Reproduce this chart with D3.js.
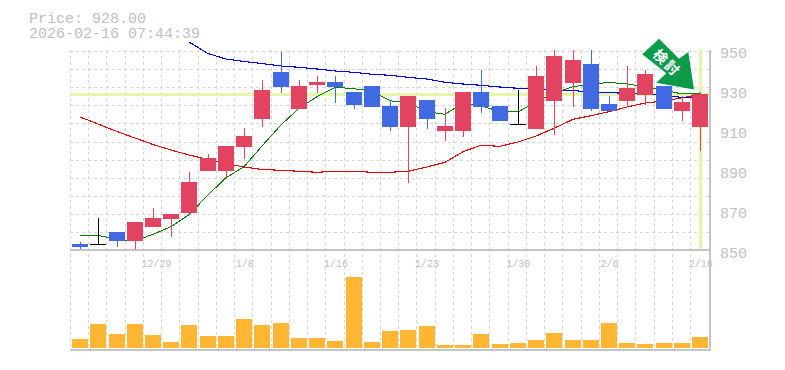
<!DOCTYPE html>
<html>
<head>
<meta charset="utf-8">
<script src="https://cdn.jsdelivr.net/npm/d3@7"></script>
<style>
	html, body { margin: 0; padding: 0; background: #fff; }
	svg { display: block; }
	text { font-family: "Liberation Mono", monospace; }
</style>
</head>
<body>
<svg id="chart" width="785" height="370"></svg>
<script>
const dates = ["12/23","12/24","12/25","12/26","12/29","12/30","1/5","1/6","1/7","1/8","1/9","1/13","1/14","1/15","1/16","1/19","1/20","1/21","1/22","1/23","1/26","1/27","1/28","1/29","1/30","2/2","2/3","2/4","2/5","2/6","2/9","2/10","2/12","2/13","2/16"];
const dateTicks = ["12/29","1/8","1/16","1/23","1/30","2/6","2/16"];
const priceTicks = [950,930,910,890,870,850];

const opens = [853,852.8,859,854.5,861.5,865.5,868.5,889.5,889.5,901.5,915.5,939,920.5,932.5,934,929,932,922,911.5,925,909.5,909.5,929,922,912.8,910.5,924.5,933.5,943,923,924.5,927.5,932,919.5,911.5];
const closes = [851.5,852.8,854.5,864,866,868,884,896,902,907,930,931.5,932,934,931.5,922.5,921.5,911.5,927,915.5,912,929,921.5,914.5,912.8,937,947,945,920.5,919.5,931,938,920.5,924,928];
const highs = [854,866,859,864,871,868,889,898,902,911,935,949,935,937,937,929,932,925,927,925,921,929,940,922,930,942,950,950,950,927,942,940,932,927,929];
const lows = [849.5,852.8,851.5,849.5,861.5,856.5,867.5,889.5,885.5,895.5,911.5,928.5,920.5,928.5,923.5,920.5,921.5,909.5,883.5,910.5,904.5,906.5,918.5,914.5,912.8,910.5,907.5,921.5,919.5,919.5,921.5,922.5,920.5,914.5,899.5];
const volumes = [9,24,14,24,13,6,23,12,12,29,23,25,10,10,7,71,6,17,18,22,3,3,14,4,5,8,15,8,8,25,5,4,5,5,11];

const maShort = [857,857.35,855.35,854.5,857.85,861.65,867.65,877.5,886.15,891.65,902,912.5,920.85,926.65,931.35,930.65,929.5,924.65,923.5,919.15,917.85,923.5,922.15,919.15,919,924.15,928.35,931.65,932.85,933.85,933,931.65,930,928,928.5];
const maMid = [916.5,913,909.25,906,902.75,900,897.5,895.25,893.25,891.5,890.25,889.85,889.35,888.85,889.35,889.35,888.85,888.85,889.35,891.5,893.85,899.15,902.35,901.85,904,907,910.85,915.35,917.15,919.15,921.5,923.5,924.5,926.15,927.75];
// the long average only starts at the seventh session
const maLong = [null,null,null,null,null,null,954,948.25,945.5,944.25,943.25,942,941.35,940.5,939.5,938.85,937.85,937.35,936.35,935.5,933.85,933,932.35,931.5,930.85,930.25,930,929.65,929.15,928.65,928.35,928,927.15,926.35,926.15];

const currentPrice = 928;
const timestamp = "2026-02-16 07:44:39";
const signalLabel = "検討";

const colUp = "#e24361", colDown = "#4169e1", colVol = "#ffb733", colGrid = "#d6d6d6", colAxis = "#c4c4c4", colText = "#c0c0c0", colNow = "#e4f6a8";

const svg = d3.select("#chart");

const x = d3.scaleBand().domain(dates).range([70.9, 709.3]).paddingInner(0.123).paddingOuter(0.0615);
const y = d3.scaleLinear().domain([850, 950]).range([250, 50]);
const yVol = d3.scaleLinear().domain([0, 100]).range([348, 248]);
const left = d => Math.round(x(d));
const mid = d => left(d) + x.bandwidth() / 2;

// grid
const gGrid = svg.append("g").attr("stroke", colGrid).attr("stroke-dasharray", "3,3").attr("stroke-width", 1).attr("shape-rendering", "crispEdges");
d3.range(12).forEach(i => {
	const gy = Math.round(51 + i * 18.1) + 0.5;
	gGrid.append("line").attr("x1", 70).attr("x2", 710).attr("y1", gy).attr("y2", gy);
});
dates.forEach((d, i) => {
	const gx = Math.round(x.range()[0] + i * x.step()) - 0.5;
	gGrid.append("line").attr("x1", gx).attr("x2", gx).attr("y1", 50).attr("y2", 350);
});

// current price and last session markers
svg.append("line").attr("x1", 70).attr("x2", 710).attr("y1", y(currentPrice) + 0.5).attr("y2", y(currentPrice) + 0.5)
	.attr("stroke", colNow).attr("stroke-width", 3);
svg.append("line").attr("x1", mid(dates[34]) + 0.5).attr("x2", mid(dates[34]) + 0.5).attr("y1", 50).attr("y2", 249)
	.attr("stroke", colNow).attr("stroke-width", 3);

// moving averages
const maLine = d3.line().defined(d => d !== null).x((d, i) => mid(dates[i])).y(d => y(d));
[[maMid, "#f00000", 1.1], [maLong, "#0000f0", 1.1], [maShort, "#008000", 1]].forEach(([values, col, w]) => {
	svg.append("path").attr("d", maLine(values)).attr("fill", "none").attr("stroke", col).attr("stroke-width", w)
		.attr("shape-rendering", "crispEdges");
});

// candles
const candles = svg.append("g").attr("shape-rendering", "crispEdges").selectAll("g").data(dates).enter().append("g");
const candleCol = (i) => closes[i] > opens[i] ? colUp : (closes[i] < opens[i] ? colDown : "#000");
candles.append("line")
	.attr("x1", d => mid(d) + 0.5).attr("x2", d => mid(d) + 0.5)
	.attr("y1", (d, i) => y(highs[i])).attr("y2", (d, i) => y(lows[i]))
	.attr("stroke", (d, i) => candleCol(i)).attr("stroke-width", 1);
candles.append("rect")
	.attr("x", d => left(d)).attr("width", x.bandwidth())
	.attr("y", (d, i) => y(Math.max(opens[i], closes[i])))
	.attr("height", (d, i) => Math.max(1, Math.abs(y(opens[i]) - y(closes[i]))))
	.attr("fill", (d, i) => candleCol(i));

// volume bars
svg.append("g").attr("shape-rendering", "crispEdges").selectAll("rect").data(dates).enter().append("rect")
	.attr("x", d => left(d)).attr("width", x.bandwidth())
	.attr("y", (d, i) => yVol(volumes[i])).attr("height", (d, i) => yVol(0) - yVol(volumes[i]))
	.attr("fill", colVol);

// frame
const gFrame = svg.append("g").attr("stroke", colAxis).attr("stroke-width", 2).attr("shape-rendering", "crispEdges");
gFrame.append("line").attr("x1", 70).attr("x2", 711).attr("y1", 250).attr("y2", 250);
gFrame.append("line").attr("x1", 70).attr("x2", 711).attr("y1", 350).attr("y2", 350);
gFrame.append("line").attr("x1", 710).attr("x2", 710).attr("y1", 50).attr("y2", 351);

// axes
const yAxis = svg.append("g").attr("transform", "translate(720,0)")
	.call(d3.axisRight(y).tickValues(priceTicks).tickSize(0).tickPadding(0));
yAxis.select(".domain").remove();
yAxis.selectAll("text").attr("x", 0).attr("dy", "0.5em")
	.style("font-family", '"Liberation Mono", monospace').style("font-size", "15px").attr("fill", colText);

const xAxis = svg.append("g").attr("transform", "translate(0,250)")
	.call(d3.axisBottom(x).tickValues(dateTicks).tickSize(0).tickPadding(0));
xAxis.select(".domain").remove();
xAxis.selectAll("text").attr("y", 9.5).attr("dy", "0.71em").attr("dx", d => d === "12/29" ? 3.5 : 0.5)
	.style("font-family", '"Liberation Mono", monospace').style("font-size", "10px").attr("fill", colText);

// price header
svg.append("text").attr("x", 29).attr("y", 23).attr("font-size", 15).attr("fill", colText).text("Price: " + currentPrice.toFixed(2));
svg.append("text").attr("x", 29).attr("y", 38).attr("font-size", 15).attr("fill", colText).text(timestamp);

// signal arrow, drawn relative to its tip above the last session
const arrow = svg.append("g").attr("transform", "translate(" + (mid(dates[34]) - 6) + "," + (y(currentPrice) - 4.5) + ")");
arrow.append("path")
	.attr("d", "M-51.7,-35.2L-35,-50.8L-15,-30.8L-5.7,-37.5L0,0L-37.7,-6.8L-27.7,-16.2Z")
	.attr("fill", "#0a9a4a");
arrow.append("text").attr("transform", "translate(-27,-26.5) rotate(45)")
	.attr("text-anchor", "middle").attr("dy", "0.36em")
	.style("font-family", '"Noto Sans CJK JP"').style("font-size", "14px").style("font-weight", "700").style("letter-spacing", "2px")
	.attr("fill", "#fff").text(signalLabel);
</script>
</body>
</html>
